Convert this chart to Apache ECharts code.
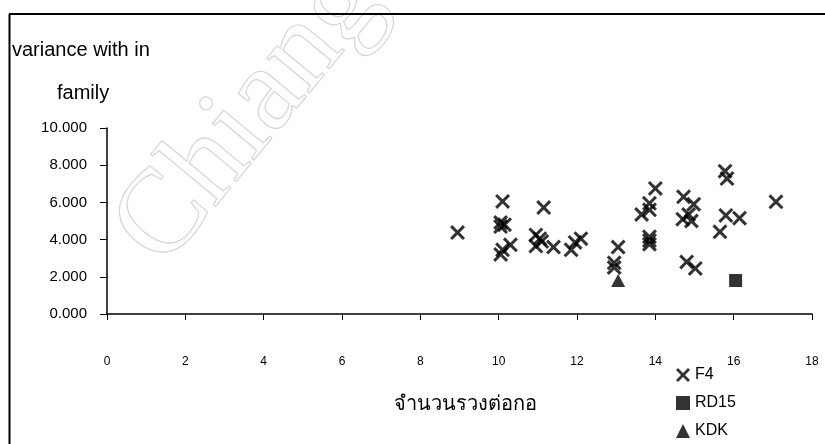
<!DOCTYPE html>
<html>
<head>
<meta charset="utf-8">
<script src="https://cdn.jsdelivr.net/npm/echarts@6/dist/echarts.min.js"></script>
<style>
html,body{margin:0;padding:0;background:#fff;}
#c{width:825px;height:444px;}
</style>
</head>
<body>
<div id="c"></div>
<script>
// ---- data ----
var xTicks = [0, 2, 4, 6, 8, 10, 12, 14, 16, 18];
var yTicks = [0, 2, 4, 6, 8, 10];
var seriesNames = ['F4', 'RD15', 'KDK'];
var f4X = [8.95, 10.1, 10.05, 10.15, 10.05, 10.3, 10.1, 10.05, 11.15, 10.95, 11.05, 10.95, 11.1, 11.4, 11.85, 11.95, 12.1, 13.05, 12.95, 12.95, 13.85, 13.85, 13.85, 13.65, 13.85, 14.0, 13.85, 14.72, 14.98, 14.7, 14.92, 14.85, 14.8, 15.02, 15.78, 15.83, 15.8, 16.15, 15.65, 17.08];
var f4Y = [4.38, 6.05, 4.92, 4.8, 4.7, 3.72, 3.45, 3.2, 5.72, 4.25, 4.05, 3.65, 3.9, 3.6, 3.45, 3.85, 4.05, 3.6, 2.75, 2.5, 4.15, 3.95, 3.75, 5.35, 5.95, 6.75, 5.6, 6.3, 5.9, 5.1, 5.0, 5.35, 2.8, 2.45, 7.68, 7.28, 5.3, 5.15, 4.42, 6.03];
var rd15X = [16.05];
var rd15Y = [1.8];
var kdkX = [13.05];
var kdkY = [1.8];
var yTitleLines = ['variance with in', 'family'];
var xTitle = 'จำนวนรวงต่อกอ';

function zip(xs, ys) { return xs.map(function (x, i) { return [x, ys[i]]; }); }

var crossPath = 'path://M0,2L2,0L7,5L12,0L14,2L9,7L14,12L12,14L7,9L2,14L0,12L5,7Z';
var FONT = '"Liberation Sans", Arial, sans-serif';

var chart = echarts.init(document.getElementById('c'), null, {renderer: 'canvas'});
chart.setOption({
  backgroundColor: '#fff',
  animation: false,
  grid: {left: 107, top: 128, width: 705, height: 186, containLabel: false},
  xAxis: {
    type: 'value', min: xTicks[0], max: xTicks[xTicks.length - 1], interval: 2,
    axisLine: {show: true, onZero: false, lineStyle: {color: '#000', width: 1.5}},
    axisTick: {show: true, inside: false, length: 6, lineStyle: {color: '#000', width: 1}},
    axisLabel: {margin: 42, color: '#000', fontSize: 12, fontFamily: FONT},
    splitLine: {show: false}
  },
  yAxis: {
    type: 'value', min: yTicks[0], max: yTicks[yTicks.length - 1], interval: 2,
    axisLine: {show: true, onZero: false, lineStyle: {color: '#000', width: 1.5}},
    axisTick: {show: true, inside: false, length: 7, lineStyle: {color: '#000', width: 1}},
    axisLabel: {margin: 20, color: '#000', fontSize: 15, fontFamily: FONT,
      formatter: function (v) { return v.toFixed(3); }},
    splitLine: {show: false}
  },
  legend: {
    orient: 'vertical', left: 671, top: 362, itemGap: 12, itemWidth: 14, itemHeight: 14,
    data: seriesNames,
    textStyle: {color: '#000', fontSize: 16, fontFamily: FONT}
  },
  graphic: [
    {type: 'text', z: -10, x: 185, y: 288, rotation: 0.88,
      style: {text: 'Chiang Mai University', font: '120px "Liberation Serif", serif', fill: 'none', stroke: '#d6d6d6', lineWidth: 1.2, textAlign: 'left', textVerticalAlign: 'bottom'}},
    {type: 'line', shape: {x1: 9.5, y1: 14, x2: 9.5, y2: 444}, style: {stroke: '#000', lineWidth: 2}},
    {type: 'line', shape: {x1: 9, y1: 14, x2: 825, y2: 14}, style: {stroke: '#000', lineWidth: 2}},
    {type: 'text', x: 12, y: 50, style: {text: yTitleLines[0], font: '20px ' + FONT, fill: '#000', textVerticalAlign: 'middle'}},
    {type: 'text', x: 57, y: 93, style: {text: yTitleLines[1], font: '20px ' + FONT, fill: '#000', textVerticalAlign: 'middle'}},
    {type: 'text', x: 465, y: 404, style: {text: xTitle, font: '20px "Noto Sans", "DejaVu Sans", sans-serif', fill: '#000', textAlign: 'center', textVerticalAlign: 'middle'}}
  ],
  series: [
    {name: seriesNames[0], type: 'scatter', symbol: crossPath, symbolSize: 15,
      itemStyle: {color: '#000'}, data: zip(f4X, f4Y)},
    {name: seriesNames[1], type: 'scatter', symbol: 'rect', symbolSize: 13,
      itemStyle: {color: '#000'}, data: zip(rd15X, rd15Y)},
    {name: seriesNames[2], type: 'scatter', symbol: 'triangle', symbolSize: [14, 13],
      itemStyle: {color: '#000'}, data: zip(kdkX, kdkY)}
  ]
});
</script>
</body>
</html>
